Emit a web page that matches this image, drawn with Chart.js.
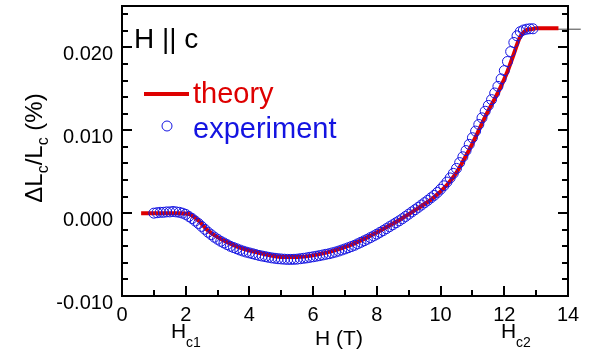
<!DOCTYPE html>
<html>
<head>
<meta charset="utf-8">
<script src="https://cdn.jsdelivr.net/npm/chart.js@4.4.1/dist/chart.umd.min.js"></script>
<style>
  html, body { margin: 0; padding: 0; background: #fff; }
  #wrap { width: 600px; height: 358px; position: relative; }
</style>
</head>
<body>
<div id="wrap"><canvas id="c" width="600" height="358"></canvas></div>
<script>
// ---- data ----
const X_TICKS = [0, 2, 4, 6, 8, 10, 12, 14];
const Y_TICKS = [-0.010, 0.000, 0.010, 0.020];

const H_THEORY = [0.6, 1.0, 1.5, 1.8, 2.1, 2.4, 2.66, 3.0, 3.3, 3.7, 4.2, 4.75, 5.2, 5.5, 6.0, 6.63, 7.2, 7.68, 8.2, 8.73, 9.3, 9.77, 10.2, 10.5, 10.71, 11.0, 11.45, 11.86, 12.1, 12.28, 12.49, 12.6, 12.7, 12.85, 13.0, 13.7];
const THEORY = [0, 0, 0, 0, -0.0001, -0.0009, -0.00196, -0.0029, -0.0035, -0.00416, -0.0047, -0.00516, -0.0053, -0.0053, -0.0051, -0.00456, -0.0038, -0.00296, -0.0019, -0.00076, 0.0006, 0.00184, 0.0034, 0.0049, 0.0063, 0.0084, 0.0120, 0.0150, 0.0171, 0.0190, 0.0212, 0.0218, 0.0221, 0.0222, 0.0223, 0.0223];

const H_EXP = [
  1.0, 1.1, 1.2, 1.3, 1.4, 1.5, 1.6, 1.7, 1.8, 1.9,
  2.0, 2.1, 2.2, 2.3, 2.4, 2.5, 2.6, 2.7, 2.8, 2.9,
  3.0, 3.1, 3.2, 3.3, 3.4, 3.5, 3.6, 3.7, 3.8, 3.9,
  4.0, 4.1, 4.2, 4.3, 4.4, 4.5, 4.6, 4.7, 4.8, 4.9,
  5.0, 5.1, 5.2, 5.3, 5.4, 5.5, 5.6, 5.7, 5.8, 5.9,
  6.0, 6.1, 6.2, 6.3, 6.4, 6.5, 6.6, 6.7, 6.8, 6.9,
  7.0, 7.1, 7.2, 7.3, 7.4, 7.5, 7.6, 7.7, 7.8, 7.9,
  8.0, 8.1, 8.2, 8.3, 8.4, 8.5, 8.6, 8.7, 8.8, 8.9,
  9.0, 9.1, 9.2, 9.3, 9.4, 9.5, 9.6, 9.7, 9.8, 9.9,
  10.0, 10.1, 10.2, 10.3, 10.4, 10.5, 10.6, 10.7, 10.8, 10.9,
  11.0, 11.1, 11.2, 11.3, 11.4, 11.5, 11.6, 11.7, 11.8, 11.9,
  12.0, 12.1, 12.2, 12.3, 12.4, 12.5, 12.6, 12.7, 12.8, 12.9
];
const EXPERIMENT = [
  0.00000, 0.00005, 0.00010, 0.00010, 0.00015, 0.00015, 0.00020, 0.00015, 0.00010, 0.00000,
  -0.00015, -0.00040, -0.00065, -0.00095, -0.00125, -0.00160, -0.00195, -0.00230, -0.00260, -0.00290,
  -0.00315, -0.00340, -0.00360, -0.00380, -0.00400, -0.00415, -0.00430, -0.00445, -0.00458, -0.00470,
  -0.00480, -0.00490, -0.00500, -0.00510, -0.00518, -0.00525, -0.00533, -0.00540, -0.00545, -0.00550,
  -0.00553, -0.00556, -0.00558, -0.00558, -0.00557, -0.00555, -0.00550, -0.00545, -0.00540, -0.00533,
  -0.00527, -0.00520, -0.00513, -0.00505, -0.00497, -0.00490, -0.00480, -0.00470, -0.00458, -0.00445,
  -0.00432, -0.00418, -0.00403, -0.00388, -0.00370, -0.00352, -0.00334, -0.00315, -0.00295, -0.00275,
  -0.00254, -0.00232, -0.00210, -0.00187, -0.00163, -0.00140, -0.00116, -0.00093, -0.00068, -0.00040,
  -0.00012, 0.00015, 0.00042, 0.00070, 0.00098, 0.00126, 0.00155, 0.00185, 0.00215, 0.00250,
  0.00288, 0.00330, 0.00375, 0.00425, 0.00480, 0.00540, 0.00610, 0.00680, 0.00755, 0.00830,
  0.00910, 0.00990, 0.01070, 0.01150, 0.01230, 0.01300, 0.01370, 0.01450, 0.01530, 0.01620,
  0.01720, 0.01830, 0.01950, 0.02060, 0.02140, 0.02190, 0.02210, 0.02220, 0.02225, 0.02225
];
const H_MARK = [13.0, 14.4];
const MARK = [0.0222, 0.0222];

const RED = 'rgb(222,0,0)';
const BLUE = 'rgb(20,20,225)';
const FONT = '"Liberation Sans", Arial, Helvetica, sans-serif';

const zip = (xs, ys) => xs.map((x, i) => ({ x, y: ys[i] }));

// ---- custom drawing: frame, inward ticks, titles, legend ----
const decor = {
  id: 'decor',
  afterDraw(chart) {
    const ctx = chart.ctx;
    const a = chart.chartArea;
    const xs = chart.scales.x, ys = chart.scales.y;
    ctx.save();
    ctx.strokeStyle = '#000';
    ctx.lineWidth = 2;
    ctx.beginPath();
    ctx.moveTo(a.left, a.top); ctx.lineTo(a.right, a.top); ctx.lineTo(a.right, a.bottom);
    ctx.stroke();
    // y ticks (left & right), every 0.002
    for (let k = -5; k <= 12; k++) {
      const v = k * 0.002;
      const py = Math.round(ys.getPixelForValue(v)) ;
      if (py < a.top + 1 || py > a.bottom - 1) continue;
      const major = (k % 5 === 0);
      ctx.lineWidth = 2;
      ctx.beginPath();
      ctx.moveTo(a.left, py); ctx.lineTo(a.left + (major ? 10 : 6), py);
      ctx.moveTo(a.right, py); ctx.lineTo(a.right - (major ? 10 : 6), py);
      ctx.stroke();
    }
    // x ticks every 1
    for (let h = 1; h < 14; h++) {
      const px = Math.round(xs.getPixelForValue(h));
      const major = (h % 2 === 0);
      ctx.beginPath();
      ctx.moveTo(px, a.bottom); ctx.lineTo(px, a.bottom - (major ? 10 : 6));
      ctx.stroke();
    }
    ctx.fillStyle = '#000';
    ctx.textBaseline = 'alphabetic';
    ctx.textAlign = 'left';
    // H || c
    ctx.font = '28px ' + FONT;
    ctx.fillText('H || c', 134, 48);
    // legend
    ctx.strokeStyle = RED; ctx.lineWidth = 4;
    ctx.beginPath(); ctx.moveTo(144, 94); ctx.lineTo(189, 94); ctx.stroke();
    ctx.strokeStyle = BLUE; ctx.lineWidth = 1;
    ctx.beginPath(); ctx.arc(167, 126, 5, 0, Math.PI * 2); ctx.stroke();
    ctx.font = '29px ' + FONT;
    ctx.fillStyle = RED; ctx.fillText('theory', 193, 103);
    ctx.fillStyle = BLUE; ctx.fillText('experiment', 193, 138);
    // x labels
    ctx.fillStyle = '#000';
    ctx.font = '21px ' + FONT;
    ctx.textAlign = 'center';
    ctx.fillText('H (T)', 339, 345);
    ctx.textAlign = 'left';
    ctx.fillText('H', 171, 338);
    ctx.fillText('H', 501, 338);
    ctx.font = '14px ' + FONT;
    ctx.fillText('c1', 186, 347);
    ctx.fillText('c2', 516, 347);
    // y title (rotated, rich text)
    const parts = [
      { t: '\u0394L', s: 24, dy: 0 },
      { t: 'c', s: 16, dy: 6 },
      { t: '/L', s: 24, dy: 0 },
      { t: 'c', s: 16, dy: 6 },
      { t: ' (%)', s: 24, dy: 0 }
    ];
    let w = 0;
    parts.forEach(p => { ctx.font = p.s + 'px ' + FONT; p.w = ctx.measureText(p.t).width; w += p.w; });
    ctx.translate(42, 148);
    ctx.rotate(-Math.PI / 2);
    let x = -w / 2;
    parts.forEach(p => { ctx.font = p.s + 'px ' + FONT; ctx.fillText(p.t, x, p.dy); x += p.w; });
    ctx.restore();
  }
};

new Chart(document.getElementById('c'), {
  type: 'scatter',
  data: {
    datasets: [
      {
        label: 'experiment',
        data: zip(H_EXP, EXPERIMENT),
        showLine: false,
        pointStyle: 'circle',
        pointRadius: 5,
        pointBorderWidth: 1,
        pointBackgroundColor: 'rgba(0,0,0,0)',
        pointBorderColor: BLUE,
        order: 0
      },
      {
        label: 'theory',
        data: zip(H_THEORY, THEORY),
        showLine: true,
        borderColor: RED,
        borderWidth: 4,
        pointRadius: 0,
        cubicInterpolationMode: 'monotone',
        order: 1
      },
      {
        label: 'mark',
        data: zip(H_MARK, MARK),
        showLine: true,
        borderColor: '#444',
        borderWidth: 1,
        pointRadius: 0,
        clip: false,
        order: 2
      }
    ]
  },
  options: {
    responsive: false,
    animation: false,
    devicePixelRatio: 1,
    layout: { padding: { left: 0, right: 32, top: 4, bottom: 0 } },
    plugins: { legend: { display: false }, tooltip: { enabled: false } },
    scales: {
      x: {
        type: 'linear', min: 0, max: 14,
        afterFit: s => { s.height = 62; s.paddingLeft = 0; s.paddingRight = 0; },
        afterBuildTicks: s => { s.ticks = X_TICKS.map(v => ({ value: v })); },
        ticks: { color: '#000', font: { size: 20, family: FONT }, padding: 7, maxRotation: 0, autoSkip: false },
        grid: { display: false, drawTicks: false },
        border: { display: true, color: '#000', width: 2 }
      },
      y: {
        type: 'linear', min: -0.010, max: 0.025,
        afterFit: s => { s.width = 122; s.paddingTop = 0; s.paddingBottom = 0; },
        afterBuildTicks: s => { s.ticks = Y_TICKS.map(v => ({ value: v })); },
        ticks: { color: '#000', font: { size: 20, family: FONT }, padding: 9, labelOffset: 7,
                 callback: v => v.toFixed(3) },
        grid: { display: false, drawTicks: false },
        border: { display: true, color: '#000', width: 2 }
      }
    }
  },
  plugins: [decor]
});
</script>
</body>
</html>
